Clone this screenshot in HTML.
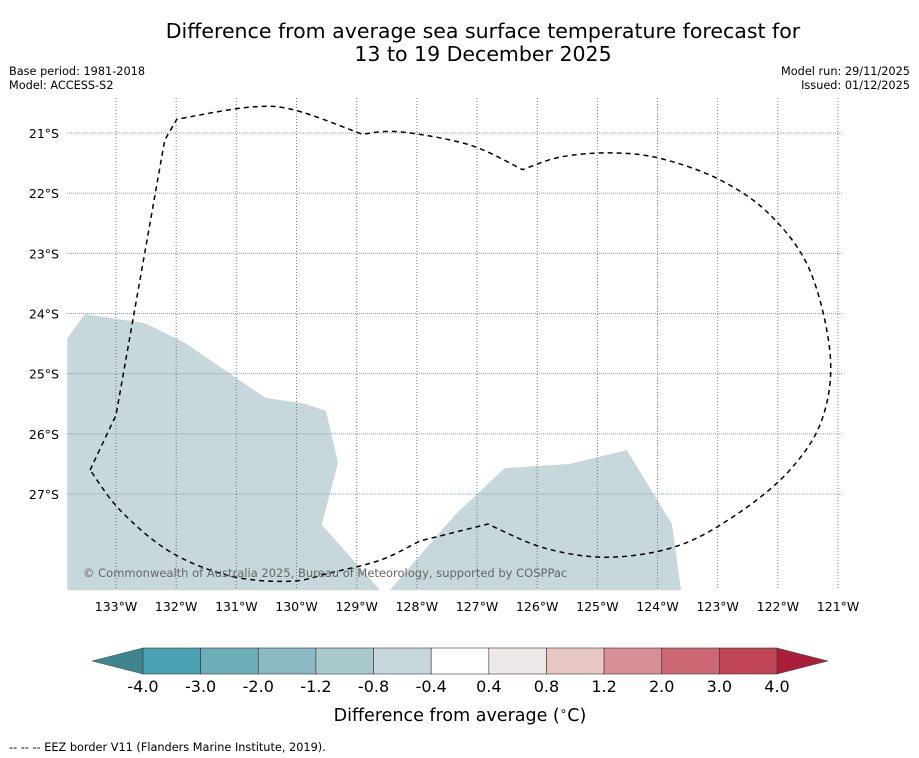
<!DOCTYPE html>
<html><head><meta charset="utf-8"><style>
body{margin:0;background:#fff;}
svg{display:block;font-family:"Liberation Sans","DejaVu Sans",sans-serif;}
</style></head><body>
<svg id="c" width="919" height="758" xmlns="http://www.w3.org/2000/svg">
<text x="483" y="38" text-anchor="middle" font-size="20.5" font-family="DejaVu Sans">Difference from average sea surface temperature forecast for</text>
<text x="483" y="61" text-anchor="middle" font-size="20.5" font-family="DejaVu Sans">13 to 19 December 2025</text>
<text x="9" y="75" font-size="11.3" font-family="DejaVu Sans">Base period: 1981-2018</text>
<text x="9" y="89" font-size="11.3" font-family="DejaVu Sans">Model: ACCESS-S2</text>
<text x="910" y="75" text-anchor="end" font-size="11.3" font-family="DejaVu Sans">Model run: 29/11/2025</text>
<text x="910" y="89" text-anchor="end" font-size="11.3" font-family="DejaVu Sans">Issued: 01/12/2025</text>
<g id="map"></g>
<g id="cb"></g>
<text x="460" y="721" text-anchor="middle" font-size="17.5" font-family="DejaVu Sans">Difference from average (<tspan font-size="12" dy="-6">∘</tspan><tspan dy="6">C)</tspan></text>
<text x="9" y="751" font-size="11.3" font-family="DejaVu Sans">-- -- -- EEZ border V11 (Flanders Marine Institute, 2019).</text>
</svg>
<script>
const lonTicks=[-133,-132,-131,-130,-129,-128,-127,-126,-125,-124,-123,-122,-121];
const latTicks=[-21,-22,-23,-24,-25,-26,-27];
const eezLon=[-133.43,-133.0,-132.19,-131.99,-130.77,-130.03,-128.91,-128.28,-127.12,-126.24,-125.62,-124.79,-123.96,-122.96,-122.13,-121.47,-121.13,-121.27,-121.80,-122.63,-123.63,-124.79,-125.87,-126.82,-127.95,-128.61,-129.44,-130.11,-131.11,-132.10,-132.93,-133.43];
const eezLat=[-26.60,-25.69,-21.12,-20.77,-20.57,-20.62,-21.02,-20.98,-21.20,-21.61,-21.40,-21.33,-21.42,-21.78,-22.36,-23.28,-24.69,-25.77,-26.60,-27.30,-27.85,-28.05,-27.90,-27.50,-27.78,-28.10,-28.31,-28.45,-28.36,-27.96,-27.27,-26.60];
const eezCorners=[0,1,2,3,6,9,23,24,31];
const coolLon=[-133.81,-133.52,-132.52,-131.85,-130.52,-129.86,-129.51,-129.31,-129.58,-128.61,-133.81];
const coolLat=[-24.41,-24.01,-24.16,-24.49,-25.40,-25.50,-25.62,-26.48,-27.51,-28.60,-28.60];
const cool2Lon=[-128.45,-127.37,-126.54,-125.45,-124.51,-123.76,-123.61];
const cool2Lat=[-28.60,-27.35,-26.57,-26.50,-26.27,-27.50,-28.60];
const cbLabels=["-4.0","-3.0","-2.0","-1.2","-0.8","-0.4","0.4","0.8","1.2","2.0","3.0","4.0"];
const cbColors=["#4aa1b2","#6daebb","#8cbac4","#a9c8cc","#c6d8dc","#ffffff","#eee8e8","#e8c6c2","#d88f96","#cc6872","#c24555"];
const cbLow="#3e8590", cbHigh="#ab1e3a";
const NS="http://www.w3.org/2000/svg";
const S=60.17;
const x=lon=>116+(lon+133)*S;
const y=lat=>133-(lat+21)*S;
const X0=67,X1=843,Y0=98,Y1=590;
function mk(tag,at,parent){const e=document.createElementNS(NS,tag);for(const k in at)e.setAttribute(k,at[k]);parent.appendChild(e);return e;}
const map=document.getElementById('map');
function poly(lons,lats,name){const p=mk('polygon',{points:lons.map((l,i)=>x(l).toFixed(1)+','+y(lats[i]).toFixed(1)).join(' '),fill:'#c6d8dc'},map);

}
poly(coolLon,coolLat,'cool-anomaly-region-west');
poly(cool2Lon,cool2Lat,'cool-anomaly-region-south');
lonTicks.forEach(l=>{const g=mk('line',{x1:x(l),x2:x(l),y1:Y0,y2:Y1,stroke:'#777',"stroke-width":1,"stroke-dasharray":"1,2"},map);


const t=mk('text',{x:x(l),y:611,"text-anchor":"middle","font-size":12.5,"font-family":"DejaVu Sans"},map);t.textContent=(-l)+'°W';

});
latTicks.forEach(l=>{const g=mk('line',{x1:X0,x2:X1,y1:y(l),y2:y(l),stroke:'#8aa0a8',"stroke-width":1,"stroke-dasharray":"1,1"},map);


const t=mk('text',{x:59,y:y(l)+5,"text-anchor":"end","font-size":12.5,"font-family":"DejaVu Sans"},map);t.textContent=(-l)+'°S';

});
// smooth EEZ path (Catmull-Rom between corner points)
const P=eezLon.map((l,i)=>[x(l),y(eezLat[i])]);
let d='M'+P[0][0].toFixed(1)+','+P[0][1].toFixed(1);
for(let c=0;c<eezCorners.length-1;c++){
  const a=eezCorners[c],b=eezCorners[c+1];
  for(let i=a;i<b;i++){
    const p0=P[Math.max(a,i-1)],p1=P[i],p2=P[i+1],p3=P[Math.min(b,i+2)];
    const c1=[p1[0]+(p2[0]-p0[0])/6,p1[1]+(p2[1]-p0[1])/6];
    const c2=[p2[0]-(p3[0]-p1[0])/6,p2[1]-(p3[1]-p1[1])/6];
    d+=` C${c1[0].toFixed(1)},${c1[1].toFixed(1)} ${c2[0].toFixed(1)},${c2[1].toFixed(1)} ${p2[0].toFixed(1)},${p2[1].toFixed(1)}`;
  }
}
const e=mk('path',{d:d,fill:'none',stroke:'#000',"stroke-width":1.5,"stroke-dasharray":"5,4"},map);


const cp=mk('text',{x:83,y:577,"font-size":11.5,fill:'#666',"font-family":"DejaVu Sans"},map);cp.textContent='© Commonwealth of Australia 2025, Bureau of Meteorology, supported by COSPPac';


const cb=document.getElementById('cb');
const bx0=143,bx1=777,by0=648,by1=674,w=(bx1-bx0)/cbColors.length;
const lo=mk('polygon',{points:`${bx0},${by0} ${bx0},${by1} 92,661`,fill:cbLow,stroke:'#444',"stroke-width":0.5},cb);


const hi=mk('polygon',{points:`${bx1},${by0} ${bx1},${by1} 828,661`,fill:cbHigh,stroke:'#444',"stroke-width":0.5},cb);


cbColors.forEach((c,i)=>{const r=mk('rect',{x:bx0+i*w,y:by0,width:w,height:by1-by0,fill:c,stroke:'#333',"stroke-width":0.6},cb);

});
cbLabels.forEach((s,i)=>{const t=mk('text',{x:bx0+i*w,y:692,"text-anchor":"middle","font-size":16,"font-family":"DejaVu Sans"},cb);t.textContent=s;

});
</script>
</body></html>
